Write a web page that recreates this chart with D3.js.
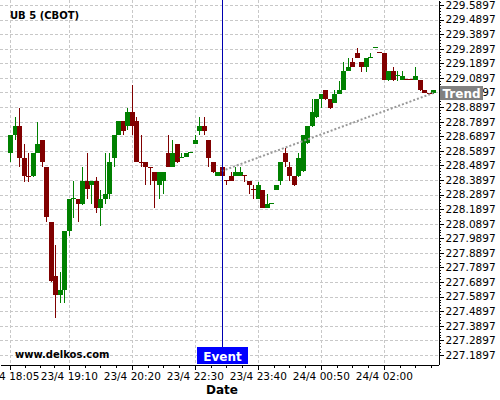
<!DOCTYPE html>
<html>
<head>
<meta charset="utf-8">
<script src="https://cdn.jsdelivr.net/npm/d3@7"></script>
<style>
  html, body { margin: 0; padding: 0; background: #fff; }
  svg { display: block; font-family: "DejaVu Sans", sans-serif; }
</style>
</head>
<body>
<svg id="chart" width="500" height="400"></svg>
<script>
// ---------- data ----------
const title = "UB 5 (CBOT)";
const watermark = "www.delkos.com";
const open = [228.577,228.698,228.760,228.538,228.419,228.419,228.572,228.664,228.479,228.101,
227.731,227.603,227.635,228.042,228.264,228.259,228.227,228.385,228.357,228.385,
228.199,228.259,228.293,228.542,228.698,228.794,228.762,228.856,228.794,228.515,
228.513,228.481,228.444,228.357,228.385,228.577,228.481,228.636,228.545,228.545,
228.579,228.636,228.728,228.760,228.664,228.513,228.419,228.477,228.389,228.419,
228.419,228.419,228.424,228.385,228.326,228.259,228.321,228.195,228.230,228.321,
228.385,228.577,228.479,228.419,228.419,228.451,228.641,228.760,228.824,228.945,
229.007,228.945,228.916,228.977,229.007,229.137,229.199,229.263,229.199,229.167,
229.231,229.302,229.265,229.260,229.075,229.137,229.110,229.075,229.080,229.080,
229.075,229.075,229.007,228.984,228.984];
const high = [228.698,228.819,228.881,228.634,228.572,228.572,228.789,228.664,228.479,228.101,
227.944,227.756,228.040,228.259,228.385,228.259,228.477,228.572,228.385,228.412,
228.321,228.572,228.572,228.698,228.794,228.794,228.881,229.041,228.819,228.698,
228.513,228.481,228.444,228.444,228.444,228.698,228.664,228.636,228.572,228.577,
228.579,228.698,228.819,228.819,228.664,228.513,228.444,228.479,228.389,228.444,
228.479,228.479,228.424,228.385,228.355,228.378,228.321,228.293,228.230,228.355,
228.513,228.607,228.513,228.419,228.577,228.698,228.760,228.943,228.945,228.977,
229.007,228.945,229.007,229.071,229.197,229.224,229.224,229.293,229.199,229.226,
229.258,229.302,229.265,229.260,229.137,229.164,229.137,229.137,229.080,229.080,
229.164,229.075,229.007,228.984,229.007];
const low = [228.515,228.664,228.481,228.378,228.378,228.410,228.572,228.477,228.099,227.690,
227.441,227.544,227.544,228.007,228.131,228.099,228.220,228.257,228.223,228.161,
228.074,228.223,228.259,228.477,228.698,228.698,228.732,228.698,228.515,228.477,
228.353,228.353,228.195,228.257,228.291,228.477,228.477,228.508,228.538,228.545,
228.579,228.636,228.698,228.698,228.477,228.439,228.417,228.419,228.353,228.385,
228.419,228.419,228.378,228.293,228.257,228.259,228.195,228.195,228.230,228.321,
228.355,228.481,228.385,228.350,228.412,228.442,228.634,228.755,228.817,228.881,
228.938,228.876,228.916,228.977,229.007,229.137,229.167,229.224,229.132,229.132,
229.224,229.302,229.264,229.075,229.071,229.071,229.071,229.075,229.079,229.079,
229.075,229.000,228.984,228.983,228.977];
const close = [228.698,228.760,228.542,228.419,228.418,228.572,228.636,228.515,228.138,227.697,
227.603,227.635,228.040,228.259,228.264,228.227,228.385,228.326,228.385,228.199,
228.259,228.293,228.515,228.698,228.794,228.728,228.856,228.762,228.515,228.514,
228.481,228.480,228.385,228.444,228.444,228.481,228.577,228.515,228.545,228.577,
228.579,228.664,228.760,228.728,228.542,228.446,228.444,228.419,228.388,228.385,
228.446,228.446,228.423,228.355,228.325,228.355,228.195,228.225,228.230,228.355,
228.513,228.513,228.419,228.355,228.542,228.698,228.760,228.856,228.945,228.977,
228.945,228.885,228.977,229.007,229.137,229.164,229.167,229.228,229.167,229.226,
229.231,229.302,229.264,229.075,229.137,229.075,229.110,229.105,229.079,229.079,
229.105,229.007,228.984,228.983,229.007];

const xTickIndex = [0, 13, 27, 41, 55, 69, 83];
const xTickLabels = ["23/4 18:05","23/4 19:10","23/4 20:20","23/4 22:30","23/4 23:40","24/4 00:50","24/4 02:00"];
const yTickLabels = ["229.5897","229.4897","229.3897","229.2897","229.1897","229.0897","228.9897",
  "228.8897","228.7897","228.6897","228.5897","228.4897","228.3897","228.2897","228.1897",
  "228.0897","227.9897","227.8897","227.7897","227.6897","227.5897","227.4897","227.3897",
  "227.2897","227.1897"];
const eventIndex = 47;
const eventLabel = "Event";
const trendIndex = [47, 94];
const trendValue = [228.451, 228.986];
const trendLabel = "Trend";
const xTitle = "Date";

// ---------- layout ----------
const svg = d3.select("#chart");
const W = 438, H = 364.5;
const x = d3.scaleLinear().domain([-2.29, 95.04]).range([0, W]);
const y = d3.scaleLinear().domain([229.624 - H / 145.8, 229.624]).range([H, 0]);

const candles = open.map((o, i) => ({ i, o, h: high[i], l: low[i], c: close[i] }));
const yTicks = yTickLabels.map(Number);

const GREEN = "#008000", RED = "#800000";

// grid
const grid = svg.append("g").attr("stroke", "#c8c8c8").attr("stroke-dasharray", "3,2").attr("shape-rendering", "crispEdges");
grid.selectAll("line.h").data(yTicks).join("line")
  .attr("x1", 0).attr("x2", W)
  .attr("y1", d => Math.round(y(d)) + 0.5).attr("y2", d => Math.round(y(d)) + 0.5);
grid.selectAll("line.v").data(xTickIndex).join("line")
  .attr("y1", 0).attr("y2", H)
  .attr("x1", d => Math.round(x(d)) + 0.5).attr("x2", d => Math.round(x(d)) + 0.5);

// candles
const cg = svg.append("g").attr("shape-rendering", "crispEdges");
const col = d => d.c >= d.o ? GREEN : RED;
cg.selectAll("line.wick").data(candles).join("line")
  .attr("x1", d => Math.round(x(d.i)) + 0.5).attr("x2", d => Math.round(x(d.i)) + 0.5)
  .attr("y1", d => y(d.h)).attr("y2", d => y(d.l))
  .attr("stroke", col).attr("stroke-width", 1);
cg.selectAll("rect.body").data(candles).join("rect")
  .attr("x", d => Math.round(x(d.i)) - 2)
  .attr("width", 5)
  .attr("y", d => y(Math.max(d.o, d.c)))
  .attr("height", d => Math.max(1, Math.abs(y(d.o) - y(d.c))))
  .attr("fill", col);

// trend line
svg.append("line")
  .attr("x1", x(trendIndex[0])).attr("y1", y(trendValue[0]))
  .attr("x2", x(trendIndex[1])).attr("y2", y(trendValue[1]))
  .attr("stroke", "#999").attr("stroke-width", 2).attr("stroke-dasharray", "2,2");

// event line + label
const ex = Math.round(x(eventIndex)) + 0.5;
svg.append("line").attr("x1", ex).attr("x2", ex).attr("y1", 0).attr("y2", 347)
  .attr("stroke", "#0000b0").attr("shape-rendering", "crispEdges");
svg.append("rect").attr("x", ex - 25.5).attr("y", 347).attr("width", 51).attr("height", 17).attr("fill", "#0000ff");
svg.append("text").attr("x", ex).attr("y", 360.5).attr("text-anchor", "middle")
  .attr("fill", "#fff").attr("font-weight", "bold").attr("font-size", 12).text(eventLabel);

// axes
const yAxis = d3.axisRight(y).tickValues(yTicks).tickFormat((d, i) => yTickLabels[i]).tickSize(5).tickSizeOuter(0).tickPadding(2);
svg.append("g").attr("transform", `translate(${W + 0.5},0)`).call(yAxis);
const minorY = d3.range(0, 125).map(k => 227.1897 + k * 0.02).concat([229.6097]);
svg.append("g").attr("transform", `translate(${W + 0.5},0)`)
  .call(d3.axisRight(y).tickValues(minorY.filter(v => v <= 229.624)).tickSize(2).tickFormat("").tickSizeOuter(0))
  .select(".domain").remove();

const xAxis = d3.axisBottom(x).tickValues(xTickIndex).tickFormat((d, i) => xTickLabels[i]).tickSize(5).tickSizeOuter(0).tickPadding(3);
svg.append("g").attr("transform", `translate(0,${H})`).call(xAxis);
const minorX = [];
for (let k = 0; k < xTickIndex.length - 1; k++) {
  const a = xTickIndex[k], b = xTickIndex[k + 1];
  for (let q = 1; q < 4; q++) minorX.push(a + (b - a) * q / 4);
}
for (let q = 1; q < 4; q++) minorX.push(83 + 14 * q / 4);
svg.append("g").attr("transform", `translate(0,${H})`)
  .call(d3.axisBottom(x).tickValues(minorX.filter(v => x(v) >= 0 && x(v) <= W)).tickSize(3).tickFormat("").tickSizeOuter(0))
  .select(".domain").remove();

svg.selectAll(".tick text").attr("font-size", 10.5).attr("font-family", "DejaVu Sans").attr("fill", "#000");
svg.selectAll(".domain, .tick line").attr("stroke", "#000").attr("shape-rendering", "crispEdges");

// trend label
const ty = y(trendValue[1]);
svg.append("rect").attr("x", 440).attr("y", ty - 7).attr("width", 43).attr("height", 14).attr("fill", "#808080");
svg.append("text").attr("x", 461.5).attr("y", ty + 4.5).attr("text-anchor", "middle")
  .attr("fill", "#fff").attr("font-weight", "bold").attr("font-size", 12).text(trendLabel);

// titles
svg.append("text").attr("x", 10).attr("y", 19).attr("font-weight", "bold").attr("font-size", 10).text(title);
svg.append("text").attr("x", 15).attr("y", 358).attr("font-weight", "bold").attr("font-size", 10).text(watermark);
svg.append("text").attr("x", 222).attr("y", 394).attr("text-anchor", "middle")
  .attr("font-weight", "bold").attr("font-size", 12).text(xTitle);
</script>
</body>
</html>
